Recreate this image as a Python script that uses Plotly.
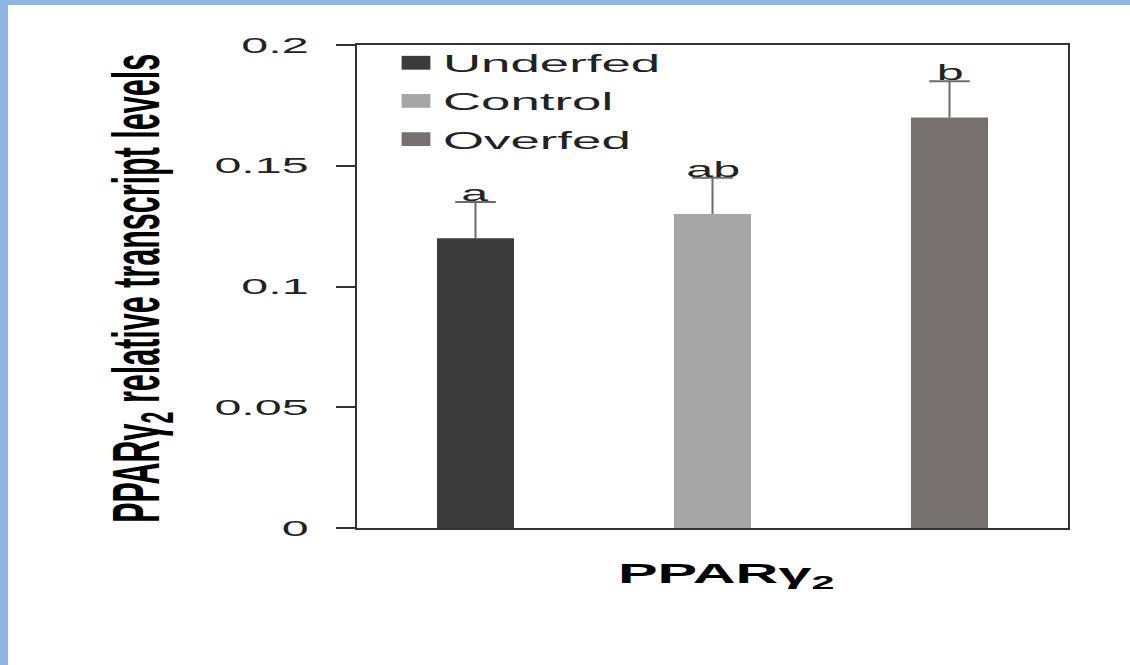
import plotly.graph_objects as go

# Relative PPARγ2 transcript levels by feeding group
groups = ["Underfed", "Control", "Overfed"]
levels = [0.12, 0.13, 0.17]
sem = [0.015, 0.015, 0.015]
letters = ["a", "ab", "b"]
bar_colors = ["#3b3b3b", "#a6a6a6", "#767170"]

y_ticks = [0, 0.05, 0.1, 0.15, 0.2]
y_tick_text = ["0", "0.05", "0.1", "0.15", "0.2"]

FONT = "Liberation Sans, Arial, sans-serif"
INK = "#222222"
ERR = "#6b6b6b"

fig = go.Figure()
for g, v, e, c in zip(groups, levels, sem, bar_colors):
    fig.add_trace(go.Bar(
        x=[g], y=[v], name=g, legendgroup=g,
        marker=dict(color=c, line=dict(width=0)),
        width=0.325,
        error_y=dict(type="data", array=[e], arrayminus=[0], symmetric=False,
                     color=ERR, thickness=2, width=0),
    ))

# caps on the upper end of the error bars only
fig.add_trace(go.Scatter(
    x=groups, y=[v + e for v, e in zip(levels, sem)],
    mode="markers", showlegend=False, hoverinfo="skip",
    marker=dict(symbol="line-ew", size=29, color=ERR,
                line=dict(color=ERR, width=2)),
))

# significance letters sit on top of each error bar
for g, v, e, t in zip(groups, levels, sem, letters):
    fig.add_annotation(x=g, y=v + e, text=t, showarrow=False,
                       xref="x", yref="y", yanchor="bottom", yshift=-6,
                       font=dict(family=FONT, size=22, color=INK))

# axis titles
fig.add_annotation(x=(726 - 357) / 711, y=-0.10, xref="paper", yref="paper",
                   text="<b>PPARγ<sub>2</sub></b>", showarrow=False,
                   xanchor="center", yanchor="middle",
                   font=dict(family=FONT, size=27, color="#000000"))
fig.add_annotation(x=(141 - 357) / 711, y=0.495, xref="paper", yref="paper",
                   text="<b>PPARγ<sub>2</sub> relative transcript levels</b>",
                   showarrow=False, textangle=-90,
                   xanchor="center", yanchor="middle",
                   font=dict(family=FONT, size=30.5, color="#000000"))

# light blue page edge (top and left)
fig.add_shape(type="rect", xref="paper", yref="paper",
              x0=-1, x1=(8 - 357) / 711, y0=-1, y1=2,
              fillcolor="#8db4e2", line=dict(width=0), layer="above")
fig.add_shape(type="rect", xref="paper", yref="paper",
              x0=-1, x1=2, y0=(528 - 5) / 483, y1=2,
              fillcolor="#8db4e2", line=dict(width=0), layer="above")

fig.update_layout(
    width=1130, height=665,
    margin=dict(l=357, r=62, t=45, b=137, pad=0),
    paper_bgcolor="white", plot_bgcolor="white",
    barmode="overlay",
    font=dict(family=FONT, color=INK),
    showlegend=True,
    legend=dict(x=0.045, y=1.009, xanchor="left", yanchor="top",
                bgcolor="rgba(0,0,0,0)", borderwidth=0,
                font=dict(family=FONT, size=24, color=INK),
                itemwidth=44, traceorder="grouped", tracegroupgap=4),
    xaxis=dict(showticklabels=False, ticks="", showgrid=False, zeroline=False,
               showline=True, linecolor="#333333", linewidth=2, mirror=True,
               range=[-0.5, 2.5]),
    yaxis=dict(range=[0, 0.2], tickvals=y_ticks, ticktext=y_tick_text,
               ticks="outside", ticklen=19, tickwidth=2, tickcolor="#333333",
               showgrid=False, zeroline=False,
               showline=True, linecolor="#333333", linewidth=2, mirror=True,
               ticklabelstandoff=23,
               tickfont=dict(family=FONT, size=22, color=INK)),
)

# widen the lettering and legend keys horizontally
stretch_js = """
var gd = document.getElementById('{plot_id}');
var SX = 2.2;
gd.querySelectorAll('.legend .scrollbox').forEach(function(e){ e.removeAttribute('clip-path'); });
gd.querySelectorAll('.legend').forEach(function(e){ e.removeAttribute('clip-path'); });
gd.querySelectorAll('svg.main-svg text').forEach(function(t){
  var bb = t.getBBox();
  var m = t.getCTM();
  var tr = t.getAttribute('transform') || '';
  var s;
  if (Math.abs(m.b) > Math.abs(m.a)) {
    var cy = bb.y + bb.height / 2;
    s = ' translate(0,' + cy + ') scale(1,' + SX + ') translate(0,' + (-cy) + ')';
  } else {
    var anchor = t.getAttribute('text-anchor') || window.getComputedStyle(t).textAnchor || 'start';
    if (t.closest('.ytick')) anchor = 'end';
    var ax = anchor === 'middle' ? bb.x + bb.width / 2 : (anchor === 'end' ? bb.x + bb.width : bb.x);
    s = ' translate(' + ax + ',0) scale(' + SX + ',1) translate(' + (-ax) + ',0)';
  }
  t.setAttribute('transform', tr + s);
});
gd.querySelectorAll('.legendpoints path').forEach(function(p){
  var bb = p.getBBox();
  var cx = bb.x + bb.width / 2;
  var tr = p.getAttribute('transform') || '';
  p.setAttribute('transform', tr + ' translate(' + cx + ',0) scale(2.4,1.15) translate(' + (-cx) + ',0)');
});
"""

fig.write_html("out.html", post_script=stretch_js)
